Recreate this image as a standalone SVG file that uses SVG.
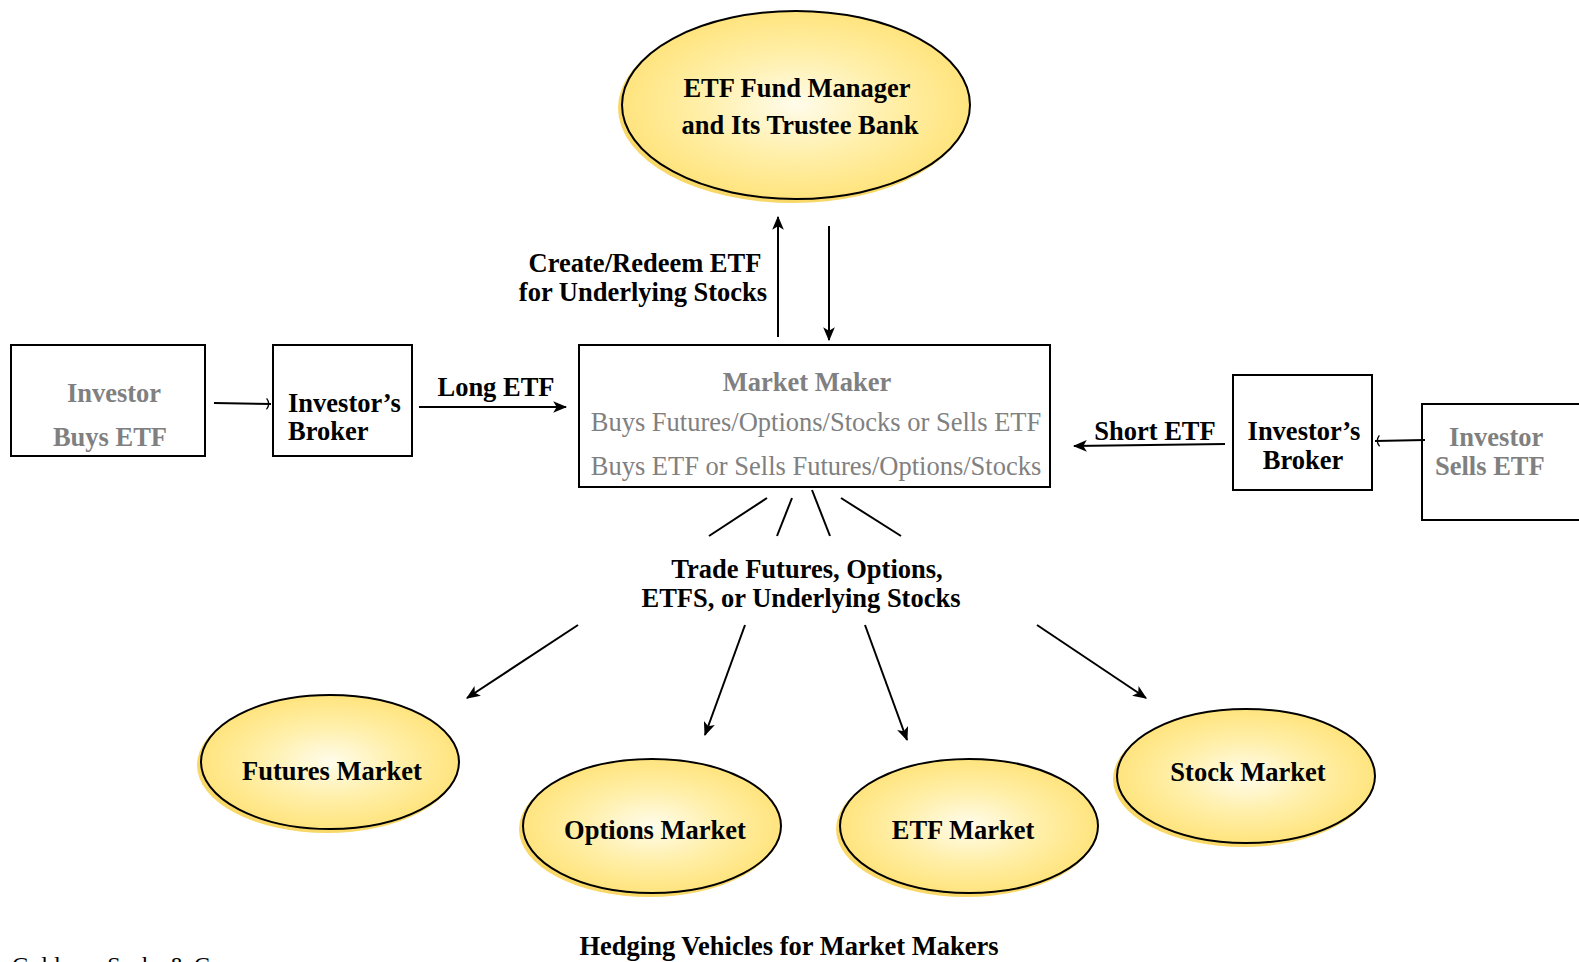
<svg xmlns="http://www.w3.org/2000/svg" width="1579" height="962" viewBox="0 0 1579 962">
<defs>
<radialGradient id="yg" cx="50%" cy="50%" r="50%">
<stop offset="0" stop-color="#FFFCEB"/>
<stop offset="0.55" stop-color="#FFEFA8"/>
<stop offset="1" stop-color="#FFE47E"/>
</radialGradient>
<marker id="ah" viewBox="0 0 12 10" refX="11" refY="5" markerWidth="14" markerHeight="12" orient="auto" markerUnits="userSpaceOnUse">
<path d="M0,0 L12,5 L0,10 L3,5 z" fill="#000"/>
</marker>
<marker id="oh" viewBox="0 0 6 12" refX="5" refY="6" markerWidth="6" markerHeight="12" orient="auto" markerUnits="userSpaceOnUse">
<path d="M0.5,0.5 Q5,6 0.5,11.5" fill="none" stroke="#000" stroke-width="1.3"/>
</marker>
<style>
text{font-family:"Liberation Serif","Times New Roman",serif;}
.b{font-weight:bold;font-size:26.5px;fill:#000;}
.g{font-weight:bold;font-size:26.5px;fill:#808080;}
.r{font-size:26.5px;fill:#808080;}
.e{font-weight:bold;font-size:26.5px;fill:#000;}
.box{fill:#fff;stroke:#000;stroke-width:2;}
.sh{fill:#F7D869;}
.el{fill:url(#yg);stroke:#000;stroke-width:2;}
.ln{fill:none;stroke:#000;stroke-width:2;}
</style>
</defs>
<rect width="1579" height="962" fill="#fff"/>

<g id="fund-manager">
<ellipse class="sh" cx="793" cy="108" rx="175" ry="95"/>
<ellipse class="el" cx="796" cy="105" rx="174" ry="94"/>
<text class="e" x="797" y="97" text-anchor="middle">ETF Fund Manager</text>
<text class="e" x="800" y="134" text-anchor="middle">and Its Trustee Bank</text>
</g>

<g id="investor-buys">
<rect class="box" x="11" y="345" width="194" height="111"/>
<text class="g" x="114" y="402" text-anchor="middle">Investor</text>
<text class="g" x="110" y="446" text-anchor="middle">Buys ETF</text>
</g>

<g id="broker-left">
<rect class="box" x="273" y="345" width="139" height="111"/>
<text class="b" x="288" y="412">Investor’s</text>
<text class="b" x="288" y="440">Broker</text>
</g>

<g id="market-maker">
<rect class="box" x="579" y="345" width="471" height="142"/>
<text class="g" x="807" y="391" text-anchor="middle">Market Maker</text>
<text class="r" x="816" y="431" text-anchor="middle">Buys Futures/Options/Stocks or Sells ETF</text>
<text class="r" x="816" y="475" text-anchor="middle">Buys ETF or Sells Futures/Options/Stocks</text>
</g>

<g id="broker-right">
<rect class="box" x="1233" y="375" width="139" height="115"/>
<text class="b" x="1304" y="440" text-anchor="middle">Investor’s</text>
<text class="b" x="1303" y="469" text-anchor="middle">Broker</text>
</g>

<g id="investor-sells">
<rect class="box" x="1422" y="404" width="170" height="116"/>
<text class="g" x="1449" y="446">Investor</text>
<text class="g" x="1435" y="475">Sells ETF</text>
</g>

<g id="trade-label">
<text class="b" x="807" y="578" text-anchor="middle">Trade Futures, Options,</text>
<text class="b" x="801" y="607" text-anchor="middle">ETFS, or Underlying Stocks</text>
</g>

<g id="futures-market">
<ellipse class="sh" cx="327" cy="765" rx="130" ry="68"/>
<ellipse class="el" cx="330" cy="762" rx="129" ry="67"/>
<text class="e" x="332" y="780" text-anchor="middle">Futures Market</text>
</g>

<g id="options-market">
<ellipse class="sh" cx="649" cy="829" rx="130" ry="68"/>
<ellipse class="el" cx="652" cy="826" rx="129" ry="67"/>
<text class="e" x="655" y="839" text-anchor="middle">Options Market</text>
</g>

<g id="etf-market">
<ellipse class="sh" cx="966" cy="829" rx="130" ry="68"/>
<ellipse class="el" cx="969" cy="826" rx="129" ry="67"/>
<text class="e" x="963" y="839" text-anchor="middle">ETF Market</text>
</g>

<g id="stock-market">
<ellipse class="sh" cx="1243" cy="779" rx="130" ry="68"/>
<ellipse class="el" cx="1246" cy="776" rx="129" ry="67"/>
<text class="e" x="1248" y="781" text-anchor="middle">Stock Market</text>
</g>

<g id="connectors">
<line class="ln" x1="778" y1="337" x2="778" y2="217" marker-end="url(#ah)"/>
<line class="ln" x1="829" y1="226" x2="829" y2="340" marker-end="url(#ah)"/>
<text class="b" x="645" y="272" text-anchor="middle">Create/Redeem ETF</text>
<text class="b" x="643" y="301" text-anchor="middle">for Underlying Stocks</text>
<line class="ln" x1="214" y1="403" x2="271" y2="404" marker-end="url(#oh)"/>
<line class="ln" x1="419" y1="407" x2="566" y2="407" marker-end="url(#ah)"/>
<text class="b" x="496" y="396" text-anchor="middle">Long ETF</text>
<line class="ln" x1="1225" y1="444" x2="1074" y2="446" marker-end="url(#ah)"/>
<text class="b" x="1155" y="440" text-anchor="middle">Short ETF</text>
<line class="ln" x1="1425" y1="440" x2="1375" y2="441" marker-end="url(#oh)"/>
<line class="ln" x1="767" y1="498" x2="709" y2="536"/>
<line class="ln" x1="792" y1="498" x2="777" y2="536"/>
<line class="ln" x1="812" y1="490" x2="830" y2="536"/>
<line class="ln" x1="841" y1="498" x2="901" y2="536"/>
<line class="ln" x1="578" y1="625" x2="467" y2="698" marker-end="url(#ah)"/>
<line class="ln" x1="745" y1="625" x2="705" y2="735" marker-end="url(#ah)"/>
<line class="ln" x1="865" y1="625" x2="907" y2="740" marker-end="url(#ah)"/>
<line class="ln" x1="1037" y1="625" x2="1146" y2="698" marker-end="url(#ah)"/>
</g>

<text class="b" x="789" y="955" text-anchor="middle">Hedging Vehicles for Market Makers</text>
<text x="12" y="973" font-size="24" fill="#000">Goldman Sachs &amp; Co.</text>
</svg>
